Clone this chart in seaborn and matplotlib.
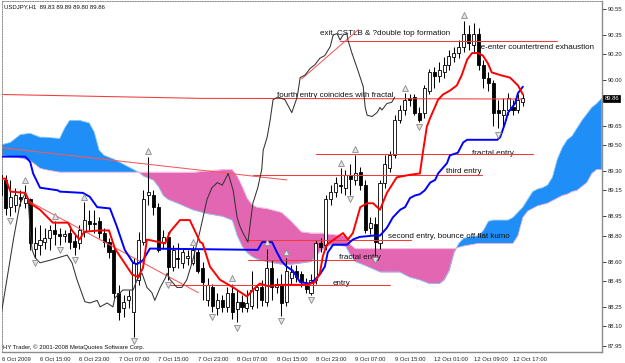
import matplotlib
matplotlib.use("Agg")
import matplotlib.pyplot as plt
import matplotlib.transforms as mtransforms
import numpy as np
import seaborn as sns

# ---------------- data ----------------
symbol_header = "USDJPY,H1  89.83 89.89 89.80 89.86"
footer = "HY Trader, \u00a9 2001-2008 MetaQuotes Software Corp."
last_price = 89.86

xtick_bars = [0, 8, 16, 24, 32, 40, 48, 56, 64, 72, 80, 88, 96, 104]
xtick_labels = ["6 Oct 2009", "6 Oct 15:00", "6 Oct 23:00", "7 Oct 07:00", "7 Oct 15:00",
                "7 Oct 23:00", "8 Oct 07:00", "8 Oct 15:00", "8 Oct 23:00", "9 Oct 07:00",
                "9 Oct 15:00", "12 Oct 01:00", "12 Oct 09:00", "12 Oct 17:00"]
ytick_vals = [90.55, 90.35, 90.20, 90.00, 89.65, 89.50, 89.30, 89.15, 88.95, 88.80,
              88.60, 88.45, 88.25, 88.10, 87.95]

opens = [89.27, 89.23, 89.02, 89.04, 89.10, 89.05, 89.08, 88.70, 88.73, 88.75,
         88.78, 88.84, 88.81, 88.80, 88.82, 88.76, 88.74, 88.83, 88.91, 88.90,
         88.91, 88.82, 88.75, 88.69, 88.36, 88.24, 88.30, 88.21, 88.46, 88.75,
         89.11, 89.11, 89.02, 88.75, 88.79, 88.56, 88.63, 88.59, 88.63, 88.59,
         88.67, 88.55, 88.30, 88.40, 88.24, 88.30, 88.25, 88.36, 88.23, 88.29,
         88.24, 88.26, 88.38, 88.40, 88.29, 88.55, 88.40, 88.43, 88.29, 88.47,
         88.53, 88.50, 88.43, 88.36, 88.46, 88.74, 88.73, 89.08, 89.14, 89.19,
         89.17, 89.27, 89.23, 89.29, 89.19, 88.86, 88.89, 88.74, 89.21, 89.32,
         89.42, 89.69, 89.77, 89.86, 89.87, 89.75, 89.75, 89.92, 90.06, 90.03,
         90.06, 90.12, 90.18, 90.21, 90.26, 90.36, 90.27, 90.36, 90.12, 90.02,
         89.98, 89.77, 89.73, 89.77, 89.79, 89.77, 89.83]
highs = [89.31, 89.27, 89.23, 89.17, 89.15, 89.19, 89.09, 88.87, 88.88, 88.86,
         88.88, 88.91, 88.86, 88.84, 88.86, 88.81, 88.88, 89.06, 89.00, 89.00,
         88.94, 88.86, 88.78, 88.73, 88.42, 88.34, 88.38, 88.63, 88.83, 89.15,
         89.41, 89.15, 89.05, 88.84, 88.83, 88.73, 88.74, 88.70, 88.69, 88.72,
         88.70, 88.60, 88.47, 88.43, 88.36, 88.34, 88.40, 88.43, 88.38, 88.34,
         88.38, 88.53, 88.42, 88.46, 88.70, 88.61, 88.47, 88.50, 88.63, 88.57,
         88.57, 88.53, 88.47, 88.50, 88.77, 88.78, 89.11, 89.19, 89.25, 89.32,
         89.31, 89.35, 89.42, 89.33, 89.23, 88.94, 88.94, 89.23, 89.42, 89.45,
         89.73, 89.81, 89.90, 89.89, 89.89, 89.79, 89.96, 90.09, 90.10, 90.14,
         90.18, 90.23, 90.26, 90.31, 90.46, 90.43, 90.44, 90.40, 90.16, 90.06,
         90.00, 89.85, 89.86, 89.90, 89.85, 89.89, 89.89]
lows = [89.00, 88.96, 88.95, 88.98, 89.03, 89.01, 88.69, 88.63, 88.65, 88.70,
        88.69, 88.73, 88.73, 88.75, 88.70, 88.65, 88.70, 88.79, 88.84, 88.82,
        88.78, 88.71, 88.63, 88.32, 88.15, 88.17, 88.24, 88.02, 88.42, 88.73,
        89.04, 88.96, 88.67, 88.70, 88.46, 88.53, 88.55, 88.55, 88.57, 88.57,
        88.51, 88.30, 88.26, 88.21, 88.19, 88.21, 88.21, 88.16, 88.13, 88.21,
        88.21, 88.23, 88.24, 88.26, 88.26, 88.30, 88.36, 88.18, 88.26, 88.42,
        88.44, 88.40, 88.36, 88.34, 88.43, 88.67, 88.69, 89.04, 89.10, 89.13,
        89.11, 89.11, 89.19, 89.15, 88.82, 88.81, 88.65, 88.70, 89.17, 89.29,
        89.40, 89.67, 89.73, 89.80, 89.73, 89.68, 89.71, 89.89, 89.94, 89.99,
        90.02, 90.08, 90.14, 90.17, 90.22, 90.23, 90.22, 90.08, 89.94, 89.92,
        89.65, 89.63, 89.65, 89.73, 89.73, 89.75, 89.80]
closes = [89.11, 89.01, 89.10, 89.11, 89.08, 89.09, 88.74, 88.74, 88.77, 88.78,
          88.84, 88.81, 88.80, 88.81, 88.75, 88.71, 88.84, 88.92, 88.89, 88.89,
          88.82, 88.75, 88.67, 88.36, 88.21, 88.29, 88.33, 88.59, 88.77, 89.08,
          89.14, 89.02, 88.69, 88.79, 88.56, 88.69, 88.62, 88.67, 88.64, 88.69,
          88.53, 88.44, 88.42, 88.26, 88.30, 88.25, 88.36, 88.21, 88.29, 88.25,
          88.28, 88.38, 88.40, 88.30, 88.55, 88.40, 88.43, 88.28, 88.53, 88.52,
          88.48, 88.44, 88.39, 88.46, 88.74, 88.71, 89.08, 89.14, 89.21, 89.18,
          89.27, 89.24, 89.28, 89.19, 88.84, 88.90, 88.75, 89.21, 89.35, 89.42,
          89.69, 89.77, 89.85, 89.85, 89.75, 89.69, 89.94, 90.06, 90.03, 90.08,
          90.12, 90.19, 90.21, 90.26, 90.36, 90.29, 90.36, 90.12, 90.02, 89.98,
          89.75, 89.75, 89.77, 89.86, 89.77, 89.85, 89.86]

# Tenkan-sen (red)
tenkan_idx = [0, 1, 2, 5, 6, 8, 10.6, 13.7, 14.5, 16, 17, 20, 22, 23.2, 26.7, 27.9,
              28.9, 29.7, 33.4, 34.4, 36.4, 38.4, 40.5, 41, 42.5, 44.5, 47.2, 50, 51.2,
              52.6, 54.3, 56.7, 62.2, 63.8, 64.8, 65.4, 66.2, 69.5, 70.5, 71.5, 73, 74.4,
              75.6, 77, 78.4, 80.4, 83.1, 85.1, 85.7, 86.5, 87.2, 88.8, 89.8, 91.2, 92.6,
              93.6, 94.7, 95.7, 96.9, 97.9, 98.9, 99.7, 101.4, 103.4, 105, 106]
tenkan_px = [89.24, 89.24, 89.14, 89.13, 89.05, 89.00, 88.90, 88.90, 88.84, 88.77, 88.83,
             88.84, 88.84, 88.70, 88.50, 88.48, 88.55, 88.77, 88.74, 88.83, 88.92, 88.92,
             88.75, 88.74, 88.56, 88.46, 88.40, 88.33, 88.38, 88.43, 88.41, 88.42, 88.42,
             88.44, 88.51, 88.64, 88.73, 88.82, 88.77, 88.82, 89.02, 89.05, 89.05, 89.00,
             89.13, 89.25, 89.27, 89.28, 89.44, 89.64, 89.71, 89.85, 89.89, 89.92, 89.96,
             90.04, 90.16, 90.21, 90.21, 90.19, 90.13, 90.06, 90.04, 90.02, 89.96, 89.89]

# Kijun-sen (blue)
kijun_idx = [0, 5, 6, 6.6, 8, 11.6, 12, 16.7, 18.1, 19.6, 22.2, 23.6, 25.2, 26.9, 27.7,
             28.9, 30.3, 52.2, 53.1, 55.1, 56.1, 57.1, 58.1, 59.3, 60.8, 62.8, 63.8, 64.8,
             65.8, 66.4, 67.5, 70.3, 71.5, 72.9, 75.6, 77, 78.4, 79.6, 81.1, 82.1, 83.1,
             84.1, 85.1, 86.1, 87.2, 88.2, 88.8, 90.6, 91.2, 92.8, 93.9, 94.7, 100.8,
             101.4, 102.4, 103, 104.4, 105, 106]
kijun_px = [89.41, 89.41, 89.37, 89.28, 89.17, 89.15, 89.14, 89.13, 89.10, 89.02, 89.01,
            88.87, 88.69, 88.59, 88.58, 88.61, 88.70, 88.69, 88.75, 88.75, 88.67, 88.60,
            88.56, 88.53, 88.44, 88.43, 88.46, 88.50, 88.56, 88.67, 88.73, 88.73, 88.77,
            88.79, 88.80, 88.80, 88.86, 88.94, 89.00, 89.02, 89.09, 89.11, 89.12, 89.15,
            89.21, 89.23, 89.28, 89.36, 89.42, 89.44, 89.52, 89.54, 89.54, 89.56, 89.67,
            89.75, 89.82, 89.90, 89.95]

# Chikou span (thin dark line)
chikou_idx = [0.2, 2.6, 3.9, 5, 5.6, 6, 6.4, 7, 8, 10, 13.5, 14.5, 15.5, 17.1, 18.1, 19.6,
              20.2, 21.6, 22.8, 23.2, 23.8, 24.8, 26.9, 27.7, 28.7, 29.7, 30.7, 31.3, 32.4,
              33.4, 33.8, 34.4, 35.8, 36.8, 37.8, 39, 40.5, 41.9, 42.9, 44, 45, 46.2, 47.2,
              48, 48.6, 49.2, 50.2, 51.2, 52.2, 53, 53.3, 54.1, 54.7, 55.3, 56.3, 57.7,
              59.1, 60.2, 60.8, 61.8, 62.8, 63.8, 64.8, 65.8, 66.9, 67.5, 68.3, 68.9, 69.5,
              70.3, 70.5, 71.3, 72.3, 73, 73.6, 74, 74.4, 75.4, 76.4, 77, 77.4, 78.4, 79.4, 80]
chikou_px = [88.21, 88.77, 89.04, 89.13, 89.08, 88.84, 88.69, 88.63, 88.59, 88.61, 88.65,
             88.59, 88.46, 88.29, 88.28, 88.30, 88.25, 88.28, 88.25, 88.32, 88.34, 88.38,
             88.38, 88.46, 88.51, 88.40, 88.36, 88.30, 88.40, 88.47, 88.51, 88.46, 88.40,
             88.40, 88.46, 88.61, 88.84, 89.08, 89.17, 89.21, 89.19, 89.28, 89.15, 88.94,
             88.87, 88.82, 88.75, 89.05, 89.17, 89.31, 89.46, 89.56, 89.69, 89.85, 89.87,
             89.85, 89.75, 89.87, 90.02, 90.04, 90.09, 90.12, 90.17, 90.19, 90.26, 90.35,
             90.36, 90.31, 90.35, 90.36, 90.31, 90.21, 90.10, 90.02, 89.95, 89.79, 89.73,
             89.72, 89.75, 89.79, 89.77, 89.82, 89.83, 89.87]

# Kumo (Senkou span A / B, shifted forward)
cloud_idx = [0, 2, 4, 6, 8, 9, 12, 13, 14, 16, 18, 19, 20, 21, 23, 25, 27, 28, 29, 31, 32,
             33, 34, 36, 39, 42, 45, 47, 48, 49, 50, 51, 52, 54, 57, 59, 61, 63, 65, 67,
             70, 71, 72, 74, 77, 81, 83, 85, 87, 89, 90, 91, 92, 93, 94, 97, 98, 99, 100,
             103, 104, 105, 106, 107, 108, 109, 110, 111, 112, 113, 114, 115, 116, 117,
             118, 119, 120, 121, 122]
span_a = [89.50, 89.52, 89.58, 89.59, 89.56, 89.56, 89.55, 89.63, 89.69, 89.69, 89.67,
          89.60, 89.46, 89.42, 89.39, 89.35, 89.31, 89.29, 89.26, 89.23, 89.18, 89.11,
          89.08, 89.05, 89.00, 88.97, 88.95, 88.92, 88.80, 88.72, 88.67, 88.64, 88.62,
          88.60, 88.58, 88.58, 88.59, 88.60, 88.69, 88.73, 88.72, 88.65, 88.60, 88.57,
          88.52, 88.52, 88.48, 88.46, 88.43, 88.43, 88.46, 88.53, 88.67, 88.74, 88.78,
          88.80, 88.84, 88.91, 88.92, 88.92, 88.94, 88.98, 89.02, 89.08, 89.14, 89.16,
          89.17, 89.19, 89.25, 89.39, 89.48, 89.54, 89.57, 89.63, 89.69, 89.74, 89.79,
          89.82, 89.86]
span_b = [89.42, 89.41, 89.40, 89.38, 89.32, 89.31, 89.29, 89.29, 89.29, 89.29, 89.29,
          89.29, 89.29, 89.29, 89.29, 89.29, 89.29, 89.29, 89.29, 89.29, 89.29, 89.29,
          89.29, 89.29, 89.29, 89.30, 89.31, 89.31, 89.26, 89.18, 89.09, 89.04, 89.02,
          89.01, 88.98, 88.91, 88.83, 88.82, 88.82, 88.81, 88.80, 88.73, 88.70, 88.70,
          88.70, 88.70, 88.70, 88.70, 88.70, 88.70, 88.70, 88.70, 88.70, 88.71, 88.72,
          88.74, 88.74, 88.74, 88.74, 88.74, 88.74, 88.80, 88.94, 88.99, 89.01, 89.03,
          89.04, 89.05, 89.07, 89.09, 89.11, 89.12, 89.14, 89.15, 89.18, 89.21, 89.28,
          89.31, 89.31]

# Bill Williams fractals
frac_up_idx = [5, 11, 17, 30, 39, 47, 54, 58, 69, 72, 82, 94]
frac_up_px = [89.23, 88.95, 89.10, 89.45, 88.75, 88.47, 88.75, 88.67, 89.36, 89.47, 89.94, 90.50]
frac_dn_idx = [2, 7, 12, 15, 27, 34, 43, 48, 57, 63, 71, 76, 85, 101]
frac_dn_px = [88.91, 88.59, 88.69, 88.61, 87.99, 88.42, 88.17, 88.09, 88.14, 88.30, 89.08,
              88.61, 89.64, 89.58]

# Drawn objects: price levels and trendlines
level_names = ["exit", "fractal_up", "third", "second", "fractal_low", "entry"]
level_prices = [90.30, 89.43, 89.27, 88.77, 88.61, 88.42]
fourth_line_idx = [-0.1, 40.5, 105.8]
fourth_line_px = [89.89, 89.86, 89.855]
trend_start = [(-0.1, 89.48), (6.0, 89.06), (61.1, 90.01)]
trend_end = [(58.1, 89.23), (40.1, 88.36), (72.6, 90.39)]

notes = ["exit, CSTLB & ?double top formation", "re-enter countertrend exhaustion",
         "fourth entry coincides with fractal", "fractal entry", "third entry",
         "second entry, bounce off flat kumo", "fractal entry", "entry"]

# ---------------- drawing ----------------
sns.set_style("white")
plt.rcParams["font.family"] = ["Liberation Sans", "DejaVu Sans"]

W, H = 625, 363
fig = plt.figure(figsize=(W / 100, H / 100), dpi=100)
fig.patch.set_facecolor("white")
ax = fig.add_axes([2 / W, 11 / H, 600 / W, 351 / H])
ax.set_facecolor("white")

# pixel <-> data calibration of the reference layout
px_per_bar, x0_px = 4.927, 0.6
px_per_unit, y_top_price = 129.5, 90.6195
xlo, xhi = (2 - x0_px) / px_per_bar, (602 - x0_px) / px_per_bar
ylo, yhi = y_top_price - 352 / px_per_unit, y_top_price - 1 / px_per_unit
ax.set_xlim(xlo, xhi)
ax.set_ylim(ylo, yhi)

BLUE = "#1f8ff7"
PINK = "#e366b3"
LINE_RED = "#f23a3a"

# Kumo
cx = np.array(cloud_idx, float)
ca = np.array(span_a)
cb = np.array(span_b)
ax.fill_between(cx, ca, cb, where=ca >= cb, interpolate=True, color=BLUE, lw=0, zorder=1)
ax.fill_between(cx, ca, cb, where=ca < cb, interpolate=True, color=PINK, lw=0, zorder=1)
ax.plot(cx, ca, color="#8cc6f7", lw=0.6, zorder=1.1)
ax.plot(cx, cb, color="#f2b0dc", lw=0.6, zorder=1.1)

# annotation text (under candles, as in the reference)
note_pos = [(64.8, 90.35), (96.9, 90.24), (56.1, 89.87), (95.7, 89.42), (90.4, 89.28),
            (78.6, 88.78), (68.7, 88.62), (67.3, 88.42)]
for txt, (nx, ny) in zip(notes, note_pos):
    ax.text(nx, ny, txt, fontsize=5.8, color="#111111", ha="left", va="baseline", zorder=2.5)

# Candles
idx = np.arange(len(closes))
o = np.array(opens); h = np.array(highs); l = np.array(lows); c = np.array(closes)
ax.vlines(idx, l, h, color="black", lw=0.75, zorder=3)
bull = c >= o
bottoms = np.minimum(o, c)
heights = np.maximum(np.abs(c - o), 0.004)
ax.bar(idx[bull], heights[bull], bottom=bottoms[bull], width=0.62, color="white",
       edgecolor="black", lw=0.6, zorder=3.1)
ax.bar(idx[~bull], heights[~bull], bottom=bottoms[~bull], width=0.62, color="black",
       edgecolor="black", lw=0.6, zorder=3.1)

# horizontal levels and trendlines
level_spans = [(68.9, 112.9), (64.0, 108.1), (51.2, 97.7), (49.6, 83.2), (50.2, 72.0), (34.4, 79.0)]
for lvl, (a, b) in zip(level_prices, level_spans):
    ax.plot([a, b], [lvl, lvl], color=LINE_RED, lw=0.75, zorder=3.5)
ax.plot(fourth_line_idx, fourth_line_px, color=LINE_RED, lw=0.75, zorder=3.5)
for (sx, sy), (ex, ey) in zip(trend_start, trend_end):
    ax.plot([sx, ex], [sy, ey], color="#f45a5a", lw=0.75, zorder=3.5)

# Ichimoku lines via seaborn
sns.lineplot(x=chikou_idx, y=chikou_px, ax=ax, color="#333333", lw=0.75,
             estimator=None, sort=False, zorder=4)
sns.lineplot(x=kijun_idx, y=kijun_px, ax=ax, color="#0000ff", lw=1.4,
             estimator=None, sort=False, zorder=4.2)
sns.lineplot(x=tenkan_idx, y=tenkan_px, ax=ax, color="#ff0000", lw=1.4,
             estimator=None, sort=False, zorder=4.3)

# fractal arrows
sns.scatterplot(x=frac_up_idx, y=frac_up_px, ax=ax, marker="^", s=18, color="#e4e4e4",
                edgecolor="#8a8a8a", linewidth=0.6, zorder=5, legend=False)
sns.scatterplot(x=frac_dn_idx, y=frac_dn_px, ax=ax, marker="v", s=18, color="#e4e4e4",
                edgecolor="#8a8a8a", linewidth=0.6, zorder=5, legend=False)

# axes / ticks
ax.yaxis.tick_right()
ax.set_yticks(ytick_vals)
ax.set_yticklabels([f"{v:.2f}" for v in ytick_vals], fontsize=4.2)
ax.tick_params(axis="y", direction="out", length=3, width=0.6, pad=1.2,
               colors="#222222", left=False, right=True)
xt = [max(b, xlo) for b in xtick_bars]
ax.set_xticks(xt)
ax.set_xticklabels(xtick_labels, fontsize=4.2, ha="left")
ax.tick_params(axis="x", direction="out", length=3, width=0.6, pad=0.5, colors="#222222")
ax.set_xlabel("")
ax.set_ylabel("")

for side in ["right", "bottom"]:
    ax.spines[side].set_color("#8c8c8c")
    ax.spines[side].set_linewidth(1.0)
for side in ["left", "top"]:
    ax.spines[side].set_color("#7a7a7a")
    ax.spines[side].set_linewidth(0.6)
    ax.spines[side].set_linestyle((0, (1.5, 1.5)))

# current price box
tr = mtransforms.blended_transform_factory(ax.transAxes, ax.transData)
ax.text(1.0 + 2.5 / 600, last_price, f"{last_price:.2f}", transform=tr, fontsize=4.2,
        color="white", ha="left", va="center", zorder=10, clip_on=False,
        bbox=dict(boxstyle="square,pad=0.18", fc="black", ec="black", lw=0.5))

fig.text(4 / W, 1 - 6.5 / H, symbol_header, fontsize=4.3, color="#111111",
         ha="left", va="center")
fig.text(3 / W, 1 - 347.5 / H, footer, fontsize=4.3, color="#111111",
         ha="left", va="center")

fig.savefig("out.png", dpi=100, facecolor="white")
